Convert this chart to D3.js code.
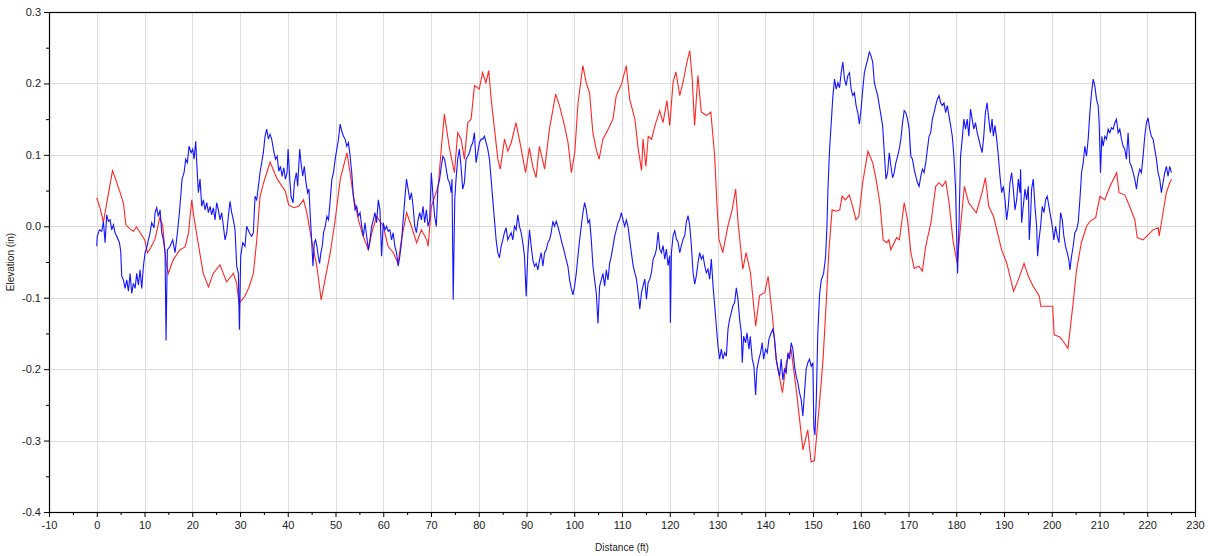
<!DOCTYPE html>
<html>
<head>
<meta charset="utf-8">
<script src="https://cdn.jsdelivr.net/npm/d3@7"></script>
<style>
  body { margin: 0; background: #fff; }
  svg { display: block; font-family: "Liberation Sans", Arial, sans-serif; }
  .grid line { stroke: #dcdcdc; stroke-width: 1; }
  .axis text { font-size: 11px; fill: #222; }
  .axis line { stroke: #000; }
</style>
</head>
<body>
<div id="chart"></div>
<script>
// x ticks (ft) and y ticks (in)
const xTicks = [-10, 0, 10, 20, 30, 40, 50, 60, 70, 80, 90, 100, 110, 120, 130, 140, 150, 160, 170, 180, 190, 200, 210, 220, 230];
const yTicks = [-0.4, -0.3, -0.2, -0.1, 0.0, 0.1, 0.2, 0.3];
const xLabel = "Distance (ft)";
const yLabel = "Elevation (in)";

// red trace [distance, elevation]
const redTrace = [[0,0.04],[0.7,0.025],[1.4,0.006],[2.3,0.04],[3.3,0.078],[4.0,0.065],[5.0,0.045],[5.6,0.032],[6.1,0.002],[7.0,-0.004],[7.7,-0.007],[8.3,-0.001],[9.2,-0.01],[10.1,-0.02],[10.6,-0.037],[11.3,-0.03],[12.2,-0.018],[13.2,0.012],[13.8,0.002],[14.5,-0.05],[15,-0.066],[16,-0.047],[17.4,-0.033],[18.5,-0.029],[19.2,-0.01],[19.9,0.037],[20.3,0.015],[20.9,-0.01],[22.3,-0.066],[23.4,-0.085],[24.4,-0.066],[25.8,-0.054],[27.2,-0.078],[28.6,-0.066],[29.3,-0.08],[29.8,-0.108],[31.0,-0.098],[31.9,-0.085],[32.8,-0.066],[33.5,-0.02],[34.2,0.042],[34.9,0.06],[35.6,0.075],[36.3,0.09],[37.8,0.066],[39.5,0.049],[40.2,0.03],[41.25,0.026],[42.3,0.028],[43.3,0.037],[44,0.019],[45.1,-0.023],[46.1,-0.056],[47,-0.103],[47.8,-0.075],[48.9,-0.037],[49.9,0.007],[51,0.066],[52.4,0.103],[53.05,0.075],[53.75,0.042],[54.8,0.009],[55.8,-0.014],[56.9,-0.033],[57.6,-0.009],[58.6,0.014],[60,0],[61,-0.028],[62.1,-0.037],[63.1,-0.052],[63.8,-0.019],[64.9,0.019],[65.9,0],[67,-0.023],[68,-0.005],[69.1,-0.019],[69.4,-0.028],[70.1,0.028],[71.5,0.056],[72.2,0.112],[72.8,0.157],[73.9,0.108],[74.9,0.075],[75.6,0.131],[76.3,0.122],[77,0.094],[77.7,0.145],[78.4,0.15],[79.1,0.197],[80.1,0.192],[80.8,0.215],[81.5,0.201],[82.1,0.218],[82.6,0.178],[83.3,0.136],[84,0.094],[84.5,0.08],[85.4,0.122],[86.1,0.105],[86.8,0.117],[87.8,0.145],[88.9,0.108],[89.8,0.075],[90.6,0.11],[91.3,0.084],[92,0.068],[92.7,0.112],[93.8,0.08],[94.8,0.136],[96.1,0.185],[96.9,0.169],[98,0.14],[98.7,0.117],[99.4,0.075],[100.1,0.103],[100.8,0.173],[101.8,0.225],[102.5,0.201],[103.2,0.187],[103.9,0.131],[104.6,0.108],[105.2,0.094],[106,0.122],[107.1,0.136],[108.1,0.15],[108.8,0.183],[109.9,0.199],[110.9,0.225],[111.6,0.178],[112.7,0.15],[113.4,0.108],[114.1,0.078],[114.4,0.122],[115,0.084],[115.5,0.126],[116.2,0.122],[116.9,0.141],[117.9,0.162],[118.6,0.145],[119.4,0.176],[120,0.141],[120.7,0.202],[121.3,0.216],[122.1,0.183],[122.8,0.202],[123.6,0.23],[124.2,0.246],[124.7,0.207],[125.2,0.141],[125.9,0.211],[126.6,0.16],[127.7,0.155],[128.6,0.16],[129.4,0.099],[129.9,0.029],[130.3,-0.018],[131.1,-0.037],[132.2,0.001],[133.1,0.024],[133.8,0.052],[134.3,0.006],[135.3,-0.06],[136,-0.037],[136.9,-0.065],[138,-0.14],[138.8,-0.097],[139.9,-0.093],[140.6,-0.07],[141.5,-0.126],[142.3,-0.187],[143.6,-0.233],[144.4,-0.191],[145.4,-0.172],[146.5,-0.229],[147.9,-0.313],[148.9,-0.285],[149.6,-0.33],[150.3,-0.328],[151.2,-0.26],[152.1,-0.187],[152.8,-0.103],[153.3,-0.037],[154,0.023],[154.9,0.021],[155.6,0.023],[156.1,0.042],[156.8,0.037],[157.6,0.044],[158.3,0.028],[159,0.009],[159.6,0.014],[160.4,0.061],[161.5,0.105],[162.5,0.089],[163.2,0.066],[164,0.033],[164.7,-0.019],[165.4,-0.023],[165.9,-0.019],[166.3,-0.033],[167.5,-0.016],[168.1,-0.019],[169.1,0.033],[169.8,0.009],[170.5,-0.037],[171.2,-0.059],[172.2,-0.056],[172.9,-0.063],[173.6,-0.028],[174.7,0.005],[175.7,0.056],[176.4,0.061],[177.1,0.056],[177.8,0.063],[178.5,0.033],[179.3,-0.019],[180.2,-0.052],[180.9,0],[181.7,0.056],[182.6,0.033],[184.2,0.019],[185.4,0.047],[186.1,0.068],[186.8,0.028],[187.8,0.014],[189.5,-0.033],[190.6,-0.052],[192,-0.091],[193,-0.075],[194.2,-0.052],[195.1,-0.07],[196.1,-0.084],[197.4,-0.098],[197.7,-0.112],[198.9,-0.112],[200.2,-0.112],[200.5,-0.152],[201.7,-0.155],[202.5,-0.162],[203.4,-0.171],[204.4,-0.112],[205.2,-0.061],[206.2,-0.023],[207.3,0],[208,0.007],[209.2,0.012],[210.1,0.042],[211.1,0.037],[212.2,0.056],[213.6,0.075],[214.1,0.047],[215.3,0.044],[216.3,0.028],[217.4,0.009],[217.9,-0.016],[219.1,-0.019],[220.2,-0.012],[221.2,-0.005],[222.3,-0.002],[222.5,-0.014],[223.3,0.019],[224,0.047],[224.7,0.061],[225.1,0.066]];

// blue trace [distance, elevation]
const blueTrace = [[0,-0.028],[0.1,-0.014],[0.56,-0.005],[1.05,-0.007],[1.4,0.007],[1.74,-0.023],[2.09,0.016],[2.44,0.007],[2.79,0.009],[3.14,-0.005],[3.49,0.002],[3.84,-0.009],[4.33,-0.016],[4.75,-0.023],[5.02,-0.035],[5.23,-0.07],[5.58,-0.075],[5.93,-0.087],[6.28,-0.075],[6.63,-0.091],[6.98,-0.066],[7.33,-0.094],[7.68,-0.08],[8.03,-0.087],[8.37,-0.066],[8.72,-0.082],[9.07,-0.061],[9.42,-0.087],[9.77,-0.056],[10.12,-0.037],[10.47,-0.03],[10.82,-0.019],[11.17,-0.009],[11.51,0.005],[12,-0.002],[12.21,0.019],[12.56,0.026],[12.91,0.014],[13.26,0.023],[13.61,-0.009],[13.96,-0.019],[14.31,-0.037],[14.51,-0.16],[14.79,-0.033],[15.35,-0.028],[15.91,-0.019],[16.4,-0.037],[16.89,-0.009],[17.31,0.019],[17.59,0.042],[17.86,0.066],[18.28,0.075],[18.63,0.094],[18.98,0.089],[19.33,0.112],[19.75,0.103],[20.1,0.108],[20.38,0.094],[20.73,0.119],[20.94,0.089],[21.28,0.047],[21.63,0.066],[21.98,0.028],[22.33,0.037],[22.68,0.023],[23.03,0.033],[23.38,0.019],[23.73,0.028],[24.07,0.016],[24.42,0.026],[24.77,0.009],[25.12,0.033],[25.47,0.023],[25.82,0.009],[26.17,0.019],[26.52,0],[26.87,-0.019],[27.22,-0.009],[27.56,0.014],[27.91,0.035],[28.26,0.019],[28.61,0.009],[28.96,-0.005],[29.31,-0.056],[29.66,-0.066],[29.87,-0.145],[30.15,-0.042],[30.57,-0.023],[31.05,-0.028],[31.4,0],[31.96,-0.009],[32.45,-0.014],[32.8,-0.009],[33.15,0.042],[33.5,0.037],[33.85,0.056],[34.19,0.075],[34.89,0.103],[35.24,0.126],[35.59,0.136],[35.94,0.122],[36.29,0.129],[36.64,0.122],[36.99,0.108],[37.43,0.094],[37.78,0.098],[38.13,0.077],[38.47,0.084],[38.82,0.07],[39.17,0.082],[39.51,0.066],[39.86,0.075],[40.07,0.108],[40.42,0.066],[40.69,0.042],[41.11,0.033],[41.39,0.061],[41.81,0.075],[42.08,0.056],[42.5,0.108],[42.78,0.089],[43.13,0.07],[43.47,0.084],[43.82,0.061],[44.17,0.047],[44.44,0.052],[44.72,0.014],[45,-0.019],[45.28,-0.056],[45.56,-0.023],[45.83,-0.019],[46.11,-0.028],[46.39,-0.042],[46.67,-0.052],[46.94,-0.037],[47.22,-0.028],[47.5,-0.009],[47.85,0],[48.19,0.014],[48.54,0.009],[48.89,0.037],[49.24,0.066],[49.58,0.075],[49.93,0.094],[50.28,0.108],[50.63,0.122],[50.97,0.143],[51.32,0.133],[51.67,0.126],[52.01,0.122],[52.36,0.112],[52.71,0.117],[53.06,0.098],[53.4,0.075],[53.75,0.042],[54.1,0.023],[54.44,0.028],[54.79,0.014],[55.14,0.019],[55.49,0],[55.83,-0.014],[56.18,0.005],[56.53,-0.014],[56.88,-0.033],[57.22,-0.019],[57.57,0],[57.92,0.009],[58.26,0.019],[58.61,0.005],[58.96,0.037],[59.31,0.023],[59.65,-0.042],[60,0.005],[60.35,-0.005],[60.69,0],[61.04,-0.007],[61.39,-0.005],[61.74,-0.019],[62.08,-0.009],[62.43,-0.028],[62.78,-0.037],[63.13,-0.056],[63.47,-0.042],[63.82,-0.023],[64.17,0.009],[64.51,0.037],[64.86,0.066],[65.21,0.052],[65.56,0.037],[65.9,0.047],[66.25,0.028],[66.6,0],[66.94,-0.009],[67.29,0.009],[67.64,0.019],[67.99,0.009],[68.33,0.028],[68.68,0.005],[69.03,0.023],[69.38,0],[69.72,0.009],[70.07,0.075],[70.42,0.042],[70.76,0.014],[71.11,0],[71.46,0.056],[71.81,0.066],[72.15,0.084],[72.5,0.098],[72.85,0.094],[73.19,0.08],[73.54,0.066],[73.89,0.061],[74.24,0.047],[74.4,0.066],[74.65,-0.103],[74.97,0.037],[75.24,0.066],[75.59,0.094],[75.94,0.108],[76.29,0.084],[76.64,0.052],[76.99,0.061],[77.34,0.094],[77.69,0.098],[78.04,0.103],[78.39,0.112],[78.74,0.117],[79.09,0.131],[79.44,0.089],[79.79,0.103],[80.14,0.117],[80.49,0.122],[80.84,0.122],[81.19,0.126],[81.54,0.117],[81.89,0.108],[82.24,0.094],[82.59,0.066],[82.94,0.037],[83.29,0.009],[83.64,-0.019],[83.99,-0.037],[84.34,-0.044],[84.69,-0.028],[85.03,-0.019],[85.38,-0.009],[85.73,-0.002],[86.08,-0.019],[86.43,-0.014],[86.78,-0.009],[87.13,-0.019],[87.48,0],[87.83,-0.005],[88.18,0.016],[88.53,0],[88.88,-0.009],[89.23,-0.023],[89.58,-0.042],[89.93,-0.098],[90.28,-0.037],[90.63,-0.005],[90.98,-0.028],[91.33,-0.047],[91.68,-0.056],[92.03,-0.052],[92.38,-0.061],[92.73,-0.047],[93.08,-0.037],[93.43,-0.056],[93.78,-0.037],[94.13,-0.033],[94.48,-0.023],[94.83,-0.019],[95.17,-0.009],[95.52,0.007],[95.87,0],[96.22,0.007],[96.57,0],[96.92,-0.009],[97.27,-0.019],[97.62,-0.028],[97.97,-0.037],[98.32,-0.047],[98.67,-0.056],[99.02,-0.075],[99.37,-0.087],[99.72,-0.096],[100.07,-0.084],[100.42,-0.066],[100.77,-0.042],[101.12,-0.019],[101.47,0],[101.82,0.019],[102.17,0.033],[102.52,0.023],[102.87,0.005],[103.22,0.009],[103.57,-0.019],[103.92,-0.056],[104.27,-0.075],[104.62,-0.094],[104.97,-0.136],[105.31,-0.084],[105.66,-0.075],[106.01,-0.066],[106.36,-0.084],[106.71,-0.061],[107.06,-0.075],[107.41,-0.052],[107.76,-0.042],[108.11,-0.028],[108.46,-0.014],[108.81,-0.005],[109.16,0.005],[109.51,0.009],[109.86,0.019],[110.21,0.009],[110.56,0],[110.91,0.009],[111.26,0],[111.61,-0.019],[111.96,-0.037],[112.33,-0.055],[112.68,-0.065],[113.03,-0.074],[113.38,-0.093],[113.73,-0.116],[114.08,-0.093],[114.43,-0.083],[114.77,-0.074],[115.12,-0.102],[115.47,-0.079],[115.82,-0.074],[116.17,-0.065],[116.52,-0.046],[116.86,-0.041],[117.21,-0.032],[117.56,-0.008],[117.91,-0.032],[118.26,-0.037],[118.61,-0.027],[118.95,-0.046],[119.3,-0.032],[119.65,-0.055],[120,-0.041],[120.14,-0.135],[120.35,-0.037],[120.7,-0.013],[121.05,-0.006],[121.39,-0.018],[121.74,-0.022],[122.09,-0.037],[122.44,-0.027],[122.79,-0.018],[123.14,-0.013],[123.48,0.006],[123.83,0.015],[124.18,0.001],[124.53,-0.027],[124.88,-0.065],[125.23,-0.081],[125.57,-0.069],[125.92,-0.051],[126.27,-0.037],[126.62,-0.046],[126.97,-0.041],[127.32,-0.055],[127.67,-0.065],[128.01,-0.06],[128.36,-0.074],[128.71,-0.046],[129.06,-0.083],[129.41,-0.111],[129.76,-0.14],[130.1,-0.168],[130.45,-0.186],[130.8,-0.172],[131.15,-0.186],[131.5,-0.177],[131.85,-0.182],[132.2,-0.144],[132.54,-0.13],[132.89,-0.121],[133.24,-0.111],[133.59,-0.107],[133.94,-0.086],[134.29,-0.102],[134.63,-0.13],[134.98,-0.149],[135.19,-0.191],[135.47,-0.154],[135.89,-0.163],[136.17,-0.149],[136.59,-0.172],[136.86,-0.154],[137.28,-0.186],[137.63,-0.196],[137.98,-0.236],[138.26,-0.2],[138.68,-0.186],[139.02,-0.177],[139.37,-0.163],[139.65,-0.186],[140.07,-0.172],[140.42,-0.177],[140.77,-0.158],[141.25,-0.149],[141.6,-0.144],[141.95,-0.158],[142.3,-0.186],[142.65,-0.2],[143,-0.21],[143.34,-0.186],[143.69,-0.215],[144.04,-0.2],[144.39,-0.205],[144.74,-0.177],[145.09,-0.186],[145.44,-0.163],[145.78,-0.172],[146.13,-0.196],[146.48,-0.21],[146.83,-0.219],[147.18,-0.233],[147.53,-0.243],[147.87,-0.266],[148.22,-0.233],[148.57,-0.2],[148.92,-0.191],[149.27,-0.186],[149.62,-0.196],[149.97,-0.191],[150.17,-0.28],[150.4,-0.292],[150.7,-0.24],[151.0,-0.15],[151.39,-0.094],[151.74,-0.075],[152.22,-0.066],[152.64,-0.042],[152.92,0],[153.13,0.052],[153.47,0.108],[153.82,0.145],[154.17,0.183],[154.51,0.206],[154.86,0.192],[155.21,0.201],[155.56,0.194],[155.9,0.215],[156.25,0.23],[156.6,0.206],[156.94,0.197],[157.29,0.211],[157.64,0.215],[157.99,0.192],[158.33,0.183],[158.68,0.187],[159.03,0.169],[159.38,0.159],[159.72,0.143],[160.07,0.164],[160.42,0.192],[160.76,0.215],[161.11,0.225],[161.46,0.234],[161.81,0.244],[162.15,0.239],[162.5,0.23],[162.85,0.201],[163.19,0.192],[163.54,0.183],[163.89,0.169],[164.24,0.155],[164.58,0.141],[164.93,0.103],[165.28,0.066],[165.63,0.075],[165.97,0.103],[166.32,0.084],[166.67,0.068],[167.01,0.075],[167.36,0.089],[167.71,0.098],[168.06,0.108],[168.4,0.122],[168.75,0.145],[169.1,0.162],[169.44,0.159],[169.79,0.15],[170.14,0.136],[170.49,0.098],[170.83,0.094],[171.18,0.08],[171.53,0.07],[171.88,0.061],[172.22,0.056],[172.57,0.07],[172.92,0.08],[173.26,0.075],[173.61,0.089],[173.96,0.108],[174.31,0.126],[174.65,0.131],[175,0.15],[175.35,0.159],[175.69,0.169],[176.04,0.178],[176.39,0.183],[176.74,0.173],[177.08,0.169],[177.43,0.173],[177.78,0.159],[178.13,0.169],[178.47,0.155],[178.82,0.141],[179.17,0.126],[179.51,0.098],[179.86,0.052],[180.07,-0.009],[180.28,-0.066],[180.56,0],[180.9,0.098],[181.25,0.122],[181.6,0.15],[181.94,0.136],[182.29,0.15],[182.64,0.126],[182.99,0.164],[183.33,0.15],[183.68,0.136],[184.03,0.145],[184.38,0.131],[184.72,0.122],[185.07,0.112],[185.42,0.103],[185.76,0.126],[186.11,0.159],[186.46,0.173],[186.81,0.15],[187.15,0.131],[187.5,0.15],[187.77,0.126],[188.12,0.141],[188.47,0.122],[188.82,0.098],[189.16,0.07],[189.51,0.047],[189.86,0.056],[190.21,0.037],[190.56,0.009],[190.91,0.028],[191.25,0.061],[191.6,0.075],[191.95,0.052],[192.3,0.023],[192.65,0.037],[193,0.066],[193.34,0.047],[193.48,0.08],[193.69,0.005],[194.04,0.028],[194.39,0.052],[194.74,0.037],[195.09,0.056],[195.3,-0.019],[195.57,0.014],[195.78,0.052],[196.13,0.066],[196.48,0.028],[196.83,0],[197.04,-0.042],[197.32,-0.019],[197.67,0],[198.01,0.028],[198.36,0.019],[198.71,0.037],[199.06,0.042],[199.41,0.028],[199.76,0.014],[200.1,0],[200.45,-0.019],[200.8,0],[201.15,-0.014],[201.5,-0.023],[201.85,0.019],[202.2,0.009],[202.54,-0.014],[202.89,-0.028],[203.24,-0.037],[203.59,-0.047],[203.8,-0.061],[204.15,-0.042],[204.49,-0.028],[204.84,-0.009],[205.19,-0.005],[205.54,0.005],[205.89,0.037],[206.24,0.075],[206.59,0.089],[206.93,0.112],[207.28,0.098],[207.63,0.122],[207.98,0.159],[208.33,0.187],[208.68,0.206],[209.02,0.197],[209.37,0.178],[209.72,0.169],[209.93,0.145],[210.21,0.075],[210.49,0.126],[210.77,0.112],[211.11,0.126],[211.46,0.122],[211.81,0.136],[212.16,0.131],[212.51,0.138],[212.86,0.136],[213.21,0.145],[213.55,0.15],[213.9,0.131],[214.25,0.136],[214.6,0.122],[214.95,0.112],[215.3,0.108],[215.64,0.094],[215.99,0.131],[216.34,0.089],[216.69,0.084],[217.04,0.075],[217.39,0.066],[217.74,0.052],[218.08,0.07],[218.43,0.08],[218.78,0.075],[219.13,0.098],[219.48,0.126],[219.83,0.145],[220.17,0.152],[220.52,0.136],[220.87,0.126],[221.22,0.122],[221.57,0.108],[221.92,0.094],[222.26,0.075],[222.61,0.066],[222.96,0.047],[223.31,0.061],[223.66,0.075],[224.01,0.084],[224.36,0.07],[224.7,0.084],[225.05,0.075]];

const W = 1210, H = 556;
const margin = { top: 12, left: 49, right: 15, bottom: 44 };
const width = W - margin.left - margin.right;
const height = H - margin.top - margin.bottom;

const svg = d3.select("#chart").append("svg")
  .attr("width", W)
  .attr("height", H);

const g = svg.append("g").attr("transform", `translate(${margin.left},${margin.top})`);

const x = d3.scaleLinear().domain([-10, 230]).range([0, width]);
const y = d3.scaleLinear().domain([-0.4, 0.3]).range([height, 0]);

// gridlines
g.append("g").attr("class", "grid")
  .selectAll("line").data(xTicks).enter().append("line")
  .attr("x1", d => Math.round(x(d)) + 0.5).attr("x2", d => Math.round(x(d)) + 0.5)
  .attr("y1", 0).attr("y2", height);
g.append("g").attr("class", "grid")
  .selectAll("line").data(yTicks).enter().append("line")
  .attr("y1", d => Math.round(y(d)) + 0.5).attr("y2", d => Math.round(y(d)) + 0.5)
  .attr("x1", 0).attr("x2", width);

// traces
const line = d3.line().x(d => x(d[0])).y(d => y(d[1]));

g.append("path").datum(redTrace)
  .attr("fill", "none")
  .attr("stroke", "#ff2626")
  .attr("stroke-width", 1.1)
  .attr("d", line);

g.append("path").datum(blueTrace)
  .attr("fill", "none")
  .attr("stroke", "#1414ff")
  .attr("stroke-width", 1.1)
  .attr("d", line);

// minor ticks
const xMinor = xTicks.slice(0, -1).map(d => d + 5);
const yMinor = yTicks.slice(0, -1).map(d => d + 0.05);

g.append("g").attr("class", "axis")
  .attr("transform", `translate(0,${height})`)
  .call(d3.axisBottom(x).tickValues(xMinor).tickSize(3).tickFormat(""))
  .call(a => a.select(".domain").remove());
g.append("g").attr("class", "axis")
  .call(d3.axisLeft(y).tickValues(yMinor).tickSize(3).tickFormat(""))
  .call(a => a.select(".domain").remove());

// major ticks + labels
g.append("g").attr("class", "axis")
  .attr("transform", `translate(0,${height})`)
  .call(d3.axisBottom(x).tickValues(xTicks).tickSize(5).tickPadding(4).tickFormat(d => String(d)))
  .call(a => a.select(".domain").remove());
g.append("g").attr("class", "axis")
  .call(d3.axisLeft(y).tickValues(yTicks).tickSize(5).tickPadding(3).tickFormat(d => d.toFixed(1)))
  .call(a => a.select(".domain").remove());

// frame
g.append("rect")
  .attr("x", 0.5).attr("y", 0.5)
  .attr("width", width).attr("height", height)
  .attr("fill", "none")
  .attr("stroke", "#000")
  .attr("stroke-width", 1.2);

// axis titles
svg.append("text")
  .attr("x", margin.left + width / 2)
  .attr("y", H - 5)
  .attr("text-anchor", "middle")
  .attr("font-size", "10px")
  .attr("fill", "#222")
  .text(xLabel);

svg.append("text")
  .attr("transform", `translate(14,${margin.top + height / 2}) rotate(-90)`)
  .attr("text-anchor", "middle")
  .attr("font-size", "10px")
  .attr("fill", "#222")
  .text(yLabel);
</script>
</body>
</html>
